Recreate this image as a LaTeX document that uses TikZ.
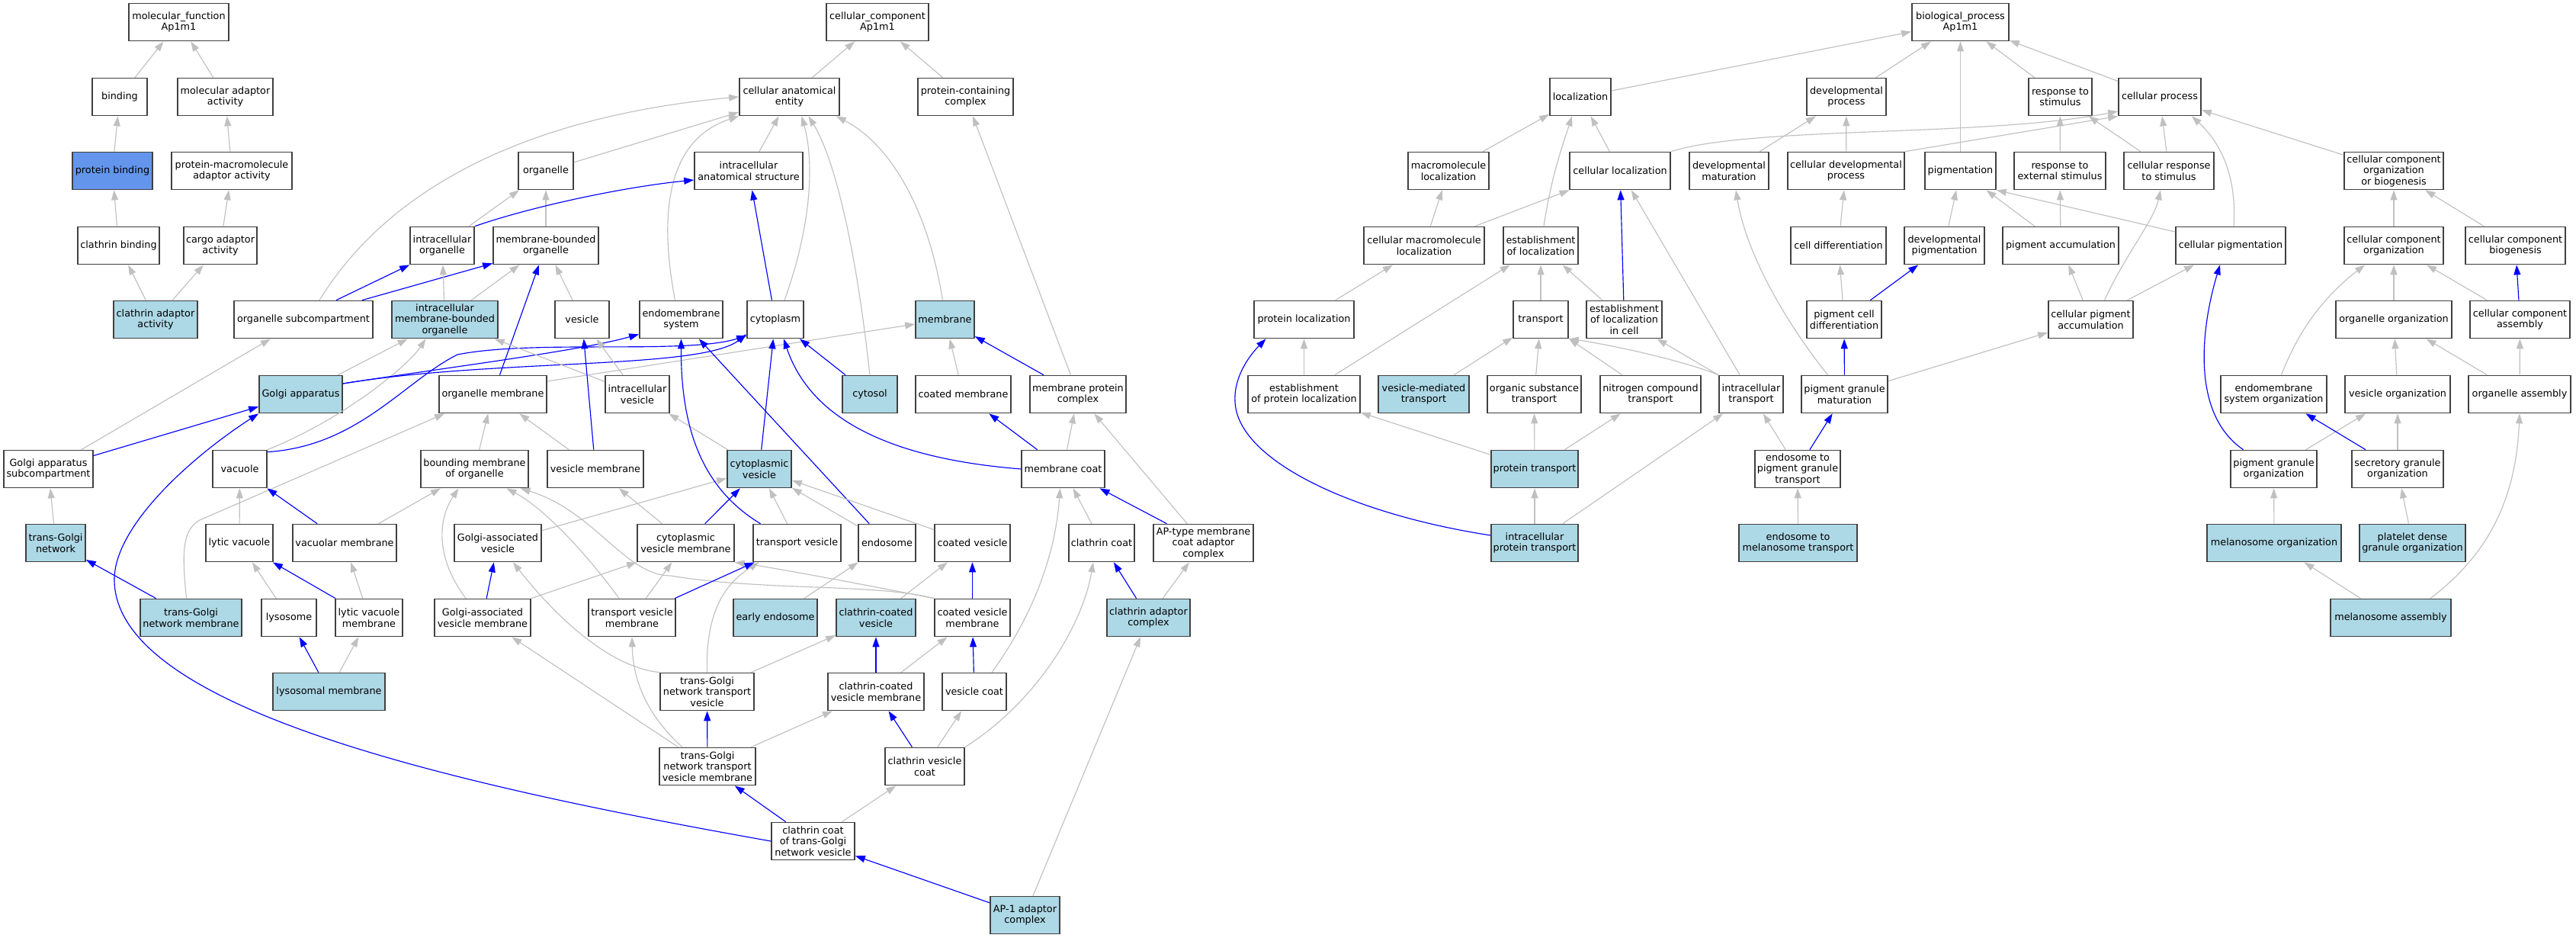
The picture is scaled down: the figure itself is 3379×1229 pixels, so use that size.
\documentclass[tikz,border=0pt]{standalone}
\usepackage{fontspec}
\setmainfont{DejaVu Sans}
\usetikzlibrary{arrows.meta}
\definecolor{hitblue}{HTML}{ADD8E6}
\definecolor{keyblue}{HTML}{6495ED}
\definecolor{isagray}{HTML}{C0C0C0}
\definecolor{partblue}{HTML}{0000FF}
\tikzset{
  term/.style={draw=black!75, line width=1.7pt, fill=white, align=center, inner sep=2pt,
    minimum height=49pt, font=\fontsize{12.8}{14.5}\selectfont},
  hit/.style={term, fill=hitblue},
  isa/.style={draw=isagray, line width=1.15pt, -{Triangle[length=13pt,width=9pt]}},
  partof/.style={draw=partblue, line width=1.15pt, -{Triangle[length=13pt,width=9pt]}},
}
\begin{document}
\begin{tikzpicture}[x=1pt,y=-1pt]
\useasboundingbox (0,0) rectangle (3379,1229);

\node[term, minimum width=131pt] (mf) at (234.5,29) {molecular\_function\\Ap1m1};
\node[term, minimum width=72pt] (binding) at (157,127) {binding};
\node[term, minimum width=125pt] (molAdaptor) at (295.5,127) {molecular adaptor\\activity};
\node[term, fill=keyblue, minimum width=105pt] (protBinding) at (147.5,224) {protein binding};
\node[term, minimum width=158pt] (pmAdaptor) at (304,224) {protein-macromolecule\\adaptor activity};
\node[term, minimum width=107pt] (clathrinBinding) at (155.5,322) {clathrin binding};
\node[term, minimum width=96pt] (cargoAdaptor) at (289,322) {cargo adaptor\\activity};
\node[hit, minimum width=110pt] (clathrinAdAct) at (204,419) {clathrin adaptor\\activity};

\node[term, minimum width=134pt] (cc) at (1151,29) {cellular\_component\\Ap1m1};
\node[term, minimum width=131pt] (cae) at (1035.5,127) {cellular anatomical\\entity};
\node[term, minimum width=125pt] (pcc) at (1266.5,127) {protein-containing\\complex};
\node[term, minimum width=72pt] (organelle) at (716,224) {organelle};
\node[term, minimum width=142pt] (ias) at (982,224) {intracellular\\anatomical structure};
\node[term, minimum width=84pt] (intraOrg) at (580,322) {intracellular\\organelle};
\node[term, minimum width=138pt] (mbo) at (716,322) {membrane-bounded\\organelle};
\node[term, minimum width=182pt] (orgSub) at (398,419) {organelle subcompartment};
\node[hit, minimum width=139pt] (imbo) at (583.5,419) {intracellular\\membrane-bounded\\organelle};
\node[term, minimum width=71pt] (vesicle) at (763.5,419) {vesicle};
\node[term, minimum width=109pt] (endoSys) at (893.5,419) {endomembrane\\system};
\node[term, minimum width=74pt] (cytoplasm) at (1017,419) {cytoplasm};
\node[hit, minimum width=77pt] (membrane) at (1239.5,419) {membrane};
\node[hit, minimum width=109pt] (golgi) at (394.5,517) {Golgi apparatus};
\node[term, minimum width=141pt] (orgMem) at (646.5,517) {organelle membrane};
\node[term, minimum width=84pt] (intraVes) at (836,517) {intracellular\\vesicle};
\node[hit, minimum width=72pt] (cytosol) at (1141,517) {cytosol};
\node[term, minimum width=125pt] (coatedMem) at (1263.5,517) {coated membrane};
\node[term, minimum width=126pt] (memProtCx) at (1414,517) {membrane protein\\complex};
\node[term, minimum width=117pt] (golgiSub) at (63.5,615) {Golgi apparatus\\subcompartment};
\node[term, minimum width=71pt] (vacuole) at (314.5,615) {vacuole};
\node[term, minimum width=141pt] (boundMem) at (622.5,615) {bounding membrane\\of organelle};
\node[term, minimum width=126pt] (vesMem) at (781,615) {vesicle membrane};
\node[hit, minimum width=84pt] (cytoVes) at (996,615) {cytoplasmic\\vesicle};
\node[term, minimum width=109pt] (memCoat) at (1394.5,615) {membrane coat};
\node[hit, minimum width=78pt] (tgn) at (73,712) {trans-Golgi\\network};
\node[term, minimum width=88pt] (lyticVac) at (314,712) {lytic vacuole};
\node[term, minimum width=136pt] (vacMem) at (452,712) {vacuolar membrane};
\node[term, minimum width=114pt] (golgiVes) at (653,712) {Golgi-associated\\vesicle};
\node[term, minimum width=127pt] (cytoVesMem) at (899.5,712) {cytoplasmic\\vesicle membrane};
\node[term, minimum width=115pt] (transVes) at (1045.5,712) {transport vesicle};
\node[term, minimum width=75pt] (endosome) at (1163.5,712) {endosome};
\node[term, minimum width=99pt] (coatedVes) at (1275.5,712) {coated vesicle};
\node[term, minimum width=86pt] (clathrinCoat) at (1445,712) {clathrin coat};
\node[term, minimum width=131pt] (apType) at (1578.5,712) {AP-type membrane\\coat adaptor\\complex};
\node[hit, minimum width=133pt] (tgnMem) at (250.5,810) {trans-Golgi\\network membrane};
\node[term, minimum width=72pt] (lysosome) at (379,810) {lysosome};
\node[term, minimum width=88pt] (lyticVacMem) at (484,810) {lytic vacuole\\membrane};
\node[term, minimum width=126pt] (golgiVesMem) at (633,810) {Golgi-associated\\vesicle membrane};
\node[term, minimum width=114pt] (transVesMem) at (829,810) {transport vesicle\\membrane};
\node[hit, minimum width=110pt] (earlyEndo) at (1017,810) {early endosome};
\node[hit, minimum width=104pt] (ccv) at (1149,810) {clathrin-coated\\vesicle};
\node[term, minimum width=99pt] (coatedVesMem) at (1275.5,810) {coated vesicle\\membrane};
\node[hit, minimum width=109pt] (clathrinAdCx) at (1506.5,810) {clathrin adaptor\\complex};
\node[hit, minimum width=147pt] (lysoMem) at (431.5,907) {lysosomal membrane};
\node[term, minimum width=123pt] (tgnTV) at (927.5,907) {trans-Golgi\\network transport\\vesicle};
\node[term, minimum width=126pt] (ccvMem) at (1149,907) {clathrin-coated\\vesicle membrane};
\node[term, minimum width=84pt] (vesCoat) at (1278,907) {vesicle coat};
\node[term, minimum width=126pt] (tgnTVMem) at (928,1005) {trans-Golgi\\network transport\\vesicle membrane};
\node[term, minimum width=104pt] (clathrinVesCoat) at (1213,1005) {clathrin vesicle\\coat};
\node[term, minimum width=109pt] (clathrinCoatTGN) at (1066.5,1103) {clathrin coat\\of trans-Golgi\\network vesicle};
\node[hit, minimum width=91pt] (ap1) at (1344.5,1200) {AP-1 adaptor\\complex};

\node[term, minimum width=127pt] (bp) at (2571.5,29) {biological\_process\\Ap1m1};
\node[term, minimum width=80pt] (localization) at (2073,127) {localization};
\node[term, minimum width=104pt] (devProc) at (2422,127) {developmental\\process};
\node[term, minimum width=83pt] (respStim) at (2702.5,127) {response to\\stimulus};
\node[term, minimum width=108pt] (cellProc) at (2833,127) {cellular process};
\node[term, minimum width=106pt] (macroLoc) at (1900,224) {macromolecule\\localization};
\node[term, minimum width=132pt] (cellLoc) at (2125,224) {cellular localization};
\node[term, minimum width=104pt] (devMat) at (2268,224) {developmental\\maturation};
\node[term, minimum width=153pt] (cellDevProc) at (2421.5,224) {cellular developmental\\process};
\node[term, minimum width=93pt] (pigmentation) at (2571.5,224) {pigmentation};
\node[term, minimum width=120pt] (respExtStim) at (2702,224) {response to\\external stimulus};
\node[term, minimum width=118pt] (cellRespStim) at (2845,224) {cellular response\\to stimulus};
\node[term, minimum width=130pt] (ccob) at (3140,224) {cellular component\\organization\\or biogenesis};
\node[term, minimum width=158pt] (cellMacroLoc) at (1868,322) {cellular macromolecule\\localization};
\node[term, minimum width=98pt] (estLoc) at (2021,322) {establishment\\of localization};
\node[term, minimum width=125pt] (cellDiff) at (2411.5,322) {cell differentiation};
\node[term, minimum width=105pt] (devPig) at (2550.5,322) {developmental\\pigmentation};
\node[term, minimum width=152pt] (pigAcc) at (2703,322) {pigment accumulation};
\node[term, minimum width=144pt] (cellPig) at (2926,322) {cellular pigmentation};
\node[term, minimum width=130pt] (cco) at (3140,322) {cellular component\\organization};
\node[term, minimum width=131pt] (ccb) at (3299.5,322) {cellular component\\biogenesis};
\node[term, minimum width=131pt] (protLoc) at (1710.5,419) {protein localization};
\node[term, minimum width=72pt] (transport) at (2021,419) {transport};
\node[term, minimum width=99pt] (estLocCell) at (2130.5,419) {establishment\\of localization\\in cell};
\node[term, minimum width=98pt] (pigCellDiff) at (2419,419) {pigment cell\\differentiation};
\node[term, minimum width=111pt] (cellPigAcc) at (2742.5,419) {cellular pigment\\accumulation};
\node[term, minimum width=152pt] (orgOrg) at (3140,419) {organelle organization};
\node[term, minimum width=131pt] (cca) at (3305.5,419) {cellular component\\assembly};
\node[term, minimum width=147pt] (estProtLoc) at (1710.5,517) {establishment\\of protein localization};
\node[hit, minimum width=119pt] (vesTransport) at (1867.5,517) {vesicle-mediated\\transport};
\node[term, minimum width=123pt] (orgSubTransport) at (2012.5,517) {organic substance\\transport};
\node[term, minimum width=132pt] (nitroTransport) at (2165,517) {nitrogen compound\\transport};
\node[term, minimum width=84pt] (intraTransport) at (2297,517) {intracellular\\transport};
\node[term, minimum width=113pt] (pigGranMat) at (2419.5,517) {pigment granule\\maturation};
\node[term, minimum width=139pt] (endoSysOrg) at (2982.5,517) {endomembrane\\system organization};
\node[term, minimum width=138pt] (vesOrg) at (3145,517) {vesicle organization};
\node[term, minimum width=134pt] (orgAssembly) at (3305,517) {organelle assembly};
\node[hit, minimum width=114pt] (protTransport) at (2013,615) {protein transport};
\node[term, minimum width=112pt] (endoPigTransport) at (2358,615) {endosome to\\pigment granule\\transport};
\node[term, minimum width=113pt] (pigGranOrg) at (2982.5,615) {pigment granule\\organization};
\node[term, minimum width=120pt] (secGranOrg) at (3145,615) {secretory granule\\organization};
\node[hit, minimum width=114pt] (intraProtTransport) at (2013,712) {intracellular\\protein transport};
\node[hit, minimum width=155pt] (endoMelTransport) at (2358.5,712) {endosome to\\melanosome transport};
\node[hit, minimum width=176pt] (melOrg) at (2983,712) {melanosome organization};
\node[hit, minimum width=139pt] (plateletOrg) at (3164.5,712) {platelet dense\\granule organization};
\node[hit, minimum width=158pt] (melAssembly) at (3136,810) {melanosome assembly};

\draw[isa] (binding) -- (mf);
\draw[isa] (molAdaptor) -- (mf);
\draw[isa] (protBinding) -- (binding);
\draw[isa] (pmAdaptor) -- (molAdaptor);
\draw[isa] (clathrinBinding) -- (protBinding);
\draw[isa] (cargoAdaptor) -- (pmAdaptor);
\draw[isa] (clathrinAdAct) -- (clathrinBinding);
\draw[isa] (clathrinAdAct) -- (cargoAdaptor);

\draw[isa] (cae) -- (cc);
\draw[isa] (pcc) -- (cc);
\draw[isa] (organelle) -- (cae);
\draw[isa] ([xshift=21pt]orgSub.north) .. controls (520,230) and (720,150) .. (cae.west);
\draw[isa] (ias) -- (cae);
\draw[isa] ([xshift=-8pt]endoSys.north) .. controls (860,260) and (885,180) .. (cae.south west);
\draw[isa] ([xshift=12pt]cytoplasm.north) .. controls (1070,280) and (1065,200) .. ([xshift=16pt]cae.south);
\draw[isa] (cytosol.north) .. controls (1120,300) and (1090,200) .. ([xshift=25pt]cae.south);
\draw[isa] ([xshift=-3pt]membrane.north) .. controls (1215,260) and (1160,185) .. ([xshift=-5pt]cae.south east);
\draw[isa] (memProtCx) -- (pcc);
\draw[isa] (intraOrg) -- (organelle);
\draw[isa] (mbo) -- (organelle);
\draw[partof] (intraOrg.north east) .. controls (700,270) and (820,245) .. ([yshift=-12pt]ias.west);
\draw[partof] ([xshift=43pt]orgSub.north) -- (intraOrg.south west);
\draw[partof] ([xshift=77pt]orgSub.north) -- ([yshift=2pt]mbo.south west);
\draw[isa] (imbo) -- (intraOrg);
\draw[isa] (imbo) -- (mbo);
\draw[isa] (vesicle) -- (mbo);
\draw[partof] (cytoplasm) -- (ias);
\draw[isa] (golgi) -- (imbo);
\draw[isa] (vacuole.north east) .. controls (450,550) and (535,480) .. ([xshift=-25pt]imbo.south);
\draw[partof] ([yshift=14pt]golgi.east) .. controls (600,480) and (760,460) .. ([yshift=6pt]endoSys.south west);
\draw[partof] ([yshift=14pt]golgi.east) .. controls (650,470) and (920,485) .. ([yshift=6pt]cytoplasm.south west);
\draw[partof] ([yshift=-3pt]vacuole.north east) .. controls (470,585) and (530,500) .. (600,465)
  .. controls (700,445) and (900,465) .. ([yshift=4pt]cytoplasm.south west);
\draw[partof] (golgiSub) -- (golgi);
\draw[partof] (clathrinCoatTGN.west) .. controls (600,1030) and (150,930) .. (150,760)
  .. controls (150,690) and (250,600) .. (golgi.south west);
\draw[isa] (golgiSub) -- (orgSub);
\draw[isa] (tgn) -- (golgiSub);
\draw[partof] (tgnMem) -- (tgn);
\draw[isa] ([xshift=-6pt]tgnMem.north) .. controls (238,720) and (240,695) .. (262,682) -- ([xshift=8pt]orgMem.south west);
\draw[partof] (vacMem) -- (vacuole);
\draw[isa] (vacMem) -- (boundMem);
\draw[isa] (lyticVac) -- (vacuole);
\draw[isa] (lysosome) -- (lyticVac);
\draw[partof] (lyticVacMem) -- (lyticVac);
\draw[isa] (lyticVacMem) -- (vacMem);
\draw[partof] (lysoMem) -- (lysosome);
\draw[isa] (lysoMem) -- (lyticVacMem);
\draw[partof] (orgMem) -- (mbo);
\draw[isa] ([yshift=17pt]orgMem.east) -- ([yshift=-6pt]membrane.west);
\draw[isa] (intraVes) -- (vesicle);
\draw[isa] (intraVes) -- (imbo);
\draw[partof] (vesMem) -- (vesicle);
\draw[isa] (vesMem) -- (orgMem);
\draw[isa] (boundMem) -- (orgMem);
\draw[isa] (cytoVes) -- (intraVes);
\draw[partof] (cytoVes) -- (cytoplasm);
\draw[partof] (cytosol) -- (cytoplasm);
\draw[isa] (coatedMem) -- (membrane);
\draw[partof] (memProtCx) -- (membrane);
\draw[partof] (memCoat) -- (coatedMem);
\draw[isa] (memCoat) -- (memProtCx);
\draw[partof] (memCoat.west) .. controls (1150,600) and (1060,540) .. ([xshift=11pt]cytoplasm.south);
\draw[isa] (golgiVes) -- (cytoVes);
\draw[partof] (golgiVesMem) -- (golgiVes);
\draw[isa] ([xshift=-22pt]golgiVesMem.north) .. controls (570,730) and (575,680) .. ([xshift=-21pt]boundMem.south);
\draw[isa] (golgiVesMem.north east) -- (cytoVesMem.south west);
\draw[partof] (cytoVesMem) -- (cytoVes);
\draw[isa] (cytoVesMem) -- (vesMem);
\draw[isa] (transVes) -- (cytoVes);
\draw[partof] ([xshift=-48pt]transVes.north) .. controls (920,640) and (893,560) .. (endoSys.south);
\draw[partof] (endosome) -- (endoSys);
\draw[isa] (endosome) -- (cytoVes);
\draw[isa] (coatedVes) -- (cytoVes);
\draw[isa] (earlyEndo) -- (endosome);
\draw[isa] (ccv) -- (coatedVes);
\draw[partof] (coatedVesMem) -- (coatedVes);
\draw[isa] (coatedVesMem.north west) .. controls (1100,760) and (1000,742) .. (cytoVesMem.south east);
\draw[isa] (coatedVesMem.north west) .. controls (1150,765) and (1000,775) .. (880,755)
  .. controls (820,755) and (780,670) .. ([xshift=60pt]boundMem.south);
\draw[partof] (ccvMem) -- (ccv);
\draw[isa] (ccvMem) -- (coatedVesMem);
\draw[isa] (tgnTV) -- (ccv);
\draw[isa] (tgnTV.north) .. controls (925,790) and (960,760) .. ([xshift=-50pt]transVes.south);
\draw[isa] (tgnTV.north west) .. controls (800,875) and (730,810) .. ([xshift=20pt]golgiVes.south);
\draw[partof] (transVesMem) -- (transVes);
\draw[isa] ([xshift=-17pt]transVesMem.north) .. controls (780,740) and (720,670) .. ([xshift=42pt]boundMem.south);
\draw[isa] (transVesMem) -- (cytoVesMem);
\draw[partof] (tgnTVMem) -- (tgnTV);
\draw[isa] (tgnTVMem) -- (ccvMem);
\draw[isa] ([xshift=-33pt]tgnTVMem.north) .. controls (840,930) and (830,880) .. (transVesMem.south);
\draw[isa] (tgnTVMem) -- (golgiVesMem);
\draw[partof] (clathrinVesCoat) -- (ccvMem);
\draw[isa] (clathrinVesCoat) -- (vesCoat);
\draw[isa] (clathrinVesCoat.north east) .. controls (1360,920) and (1420,820) .. ([xshift=-11pt]clathrinCoat.south);
\draw[partof] (vesCoat) -- (coatedVesMem);
\draw[isa] ([xshift=23pt]vesCoat.north) .. controls (1360,800) and (1385,720) .. ([xshift=-4pt]memCoat.south);
\draw[isa] (clathrinCoat) -- (memCoat);
\draw[partof] (apType) -- (memCoat);
\draw[isa] (apType) -- (memProtCx);
\draw[partof] (clathrinAdCx) -- (clathrinCoat);
\draw[isa] (clathrinAdCx) -- (apType);
\draw[partof] (clathrinCoatTGN) -- (tgnTVMem);
\draw[isa] (clathrinCoatTGN) -- (clathrinVesCoat);
\draw[partof] (ap1) -- (clathrinCoatTGN);
\draw[isa] (ap1) -- (clathrinAdCx);

\draw[isa] (localization) -- (bp);
\draw[isa] (devProc) -- (bp);
\draw[isa] (pigmentation) -- (bp);
\draw[isa] (respStim) -- (bp);
\draw[isa] (cellProc) -- (bp);
\draw[isa] (macroLoc) -- (localization);
\draw[isa] (cellLoc) -- (localization);
\draw[isa] ([xshift=4pt]estLoc.north) .. controls (2035,230) and (2050,190) .. ([xshift=-11pt]localization.south);
\draw[isa] (cellLoc.north east) .. controls (2300,165) and (2600,180) .. ([yshift=-19pt]cellProc.west);
\draw[isa] (devMat) -- (devProc);
\draw[isa] (cellDevProc) -- (devProc);
\draw[isa] (cellDevProc.north east) -- (cellProc.south west);
\draw[isa] (cellMacroLoc) -- (macroLoc);
\draw[isa] (cellMacroLoc) -- (cellLoc);
\draw[isa] (cellDiff) -- (cellDevProc);
\draw[isa] (devPig) -- (pigmentation);
\draw[isa] (pigAcc) -- (pigmentation);
\draw[isa] (pigAcc) -- (respExtStim);
\draw[isa] ([yshift=18pt]cellPig.west) -- (pigmentation.south east);
\draw[isa] ([xshift=4pt]cellPig.north) .. controls (2935,220) and (2905,180) .. ([xshift=42pt]cellProc.south);
\draw[isa] (respExtStim) -- (respStim);
\draw[isa] (cellRespStim) -- (respStim);
\draw[isa] (cellRespStim) -- (cellProc);
\draw[isa] (ccob) -- (cellProc);
\draw[isa] (cco) -- (ccob);
\draw[isa] (ccb) -- (ccob);
\draw[isa] (protLoc) -- (cellMacroLoc);
\draw[isa] (estLocCell) -- (estLoc);
\draw[partof] (estLocCell) -- (cellLoc);
\draw[isa] (transport) -- (estLoc);
\draw[isa] (pigCellDiff) -- (cellDiff);
\draw[partof] (pigCellDiff) -- (devPig);
\draw[isa] (cellPigAcc) -- (pigAcc);
\draw[isa] (cellPigAcc) -- (cellPig);
\draw[isa] ([xshift=18pt]cellPigAcc.north) .. controls (2790,330) and (2825,290) .. ([xshift=-11pt]cellRespStim.south);
\draw[isa] (orgOrg) -- (cco);
\draw[isa] (cca) -- (cco);
\draw[partof] (cca) -- (ccb);
\draw[isa] (estProtLoc) -- (protLoc);
\draw[isa] (estProtLoc) -- (estLoc);
\draw[isa] (vesTransport) -- (transport);
\draw[isa] (orgSubTransport) -- (transport);
\draw[isa] (nitroTransport) -- (transport);
\draw[isa] (intraTransport.north west) .. controls (2200,470) and (2100,450) .. (transport.south east);
\draw[isa] (intraTransport) -- (estLocCell);
\draw[isa] (intraTransport) -- (cellLoc);
\draw[isa] ([xshift=-22pt]pigGranMat.north) .. controls (2340,420) and (2290,330) .. ([xshift=9pt]devMat.south);
\draw[partof] (pigGranMat) -- (pigCellDiff);
\draw[isa] (pigGranMat) -- (cellPigAcc);
\draw[isa] ([xshift=10pt]endoSysOrg.north) .. controls (3020,420) and (3060,380) .. ([xshift=-38pt]cco.south);
\draw[isa] (vesOrg) -- (orgOrg);
\draw[isa] (orgAssembly) -- (orgOrg);
\draw[isa] (orgAssembly) -- (cca);
\draw[isa] (protTransport) -- (estProtLoc);
\draw[isa] (protTransport) -- (orgSubTransport);
\draw[isa] (protTransport) -- (nitroTransport);
\draw[isa] (endoPigTransport) -- (intraTransport);
\draw[partof] (endoPigTransport) -- (pigGranMat);
\draw[partof] ([xshift=-40pt]pigGranOrg.north) .. controls (2870,540) and (2890,420) .. ([xshift=-14pt]cellPig.south);
\draw[isa] (pigGranOrg) -- (vesOrg);
\draw[partof] (secGranOrg) -- (endoSysOrg);
\draw[isa] (secGranOrg) -- (vesOrg);
\draw[isa] (intraProtTransport) -- (protTransport);
\draw[isa] (intraProtTransport) -- (intraTransport);
\draw[partof] ([yshift=10pt]intraProtTransport.west) .. controls (1780,675) and (1640,610) .. (1622,540)
  .. controls (1612,500) and (1640,465) .. ([xshift=-50pt]protLoc.south);
\draw[isa] (endoMelTransport) -- (endoPigTransport);
\draw[isa] (melOrg) -- (pigGranOrg);
\draw[isa] (plateletOrg) -- (secGranOrg);
\draw[isa] (melAssembly) -- (melOrg);
\draw[isa] ([xshift=52pt]melAssembly.north) .. controls (3260,730) and (3300,660) .. (orgAssembly.south);
\end{tikzpicture}
\end{document}
